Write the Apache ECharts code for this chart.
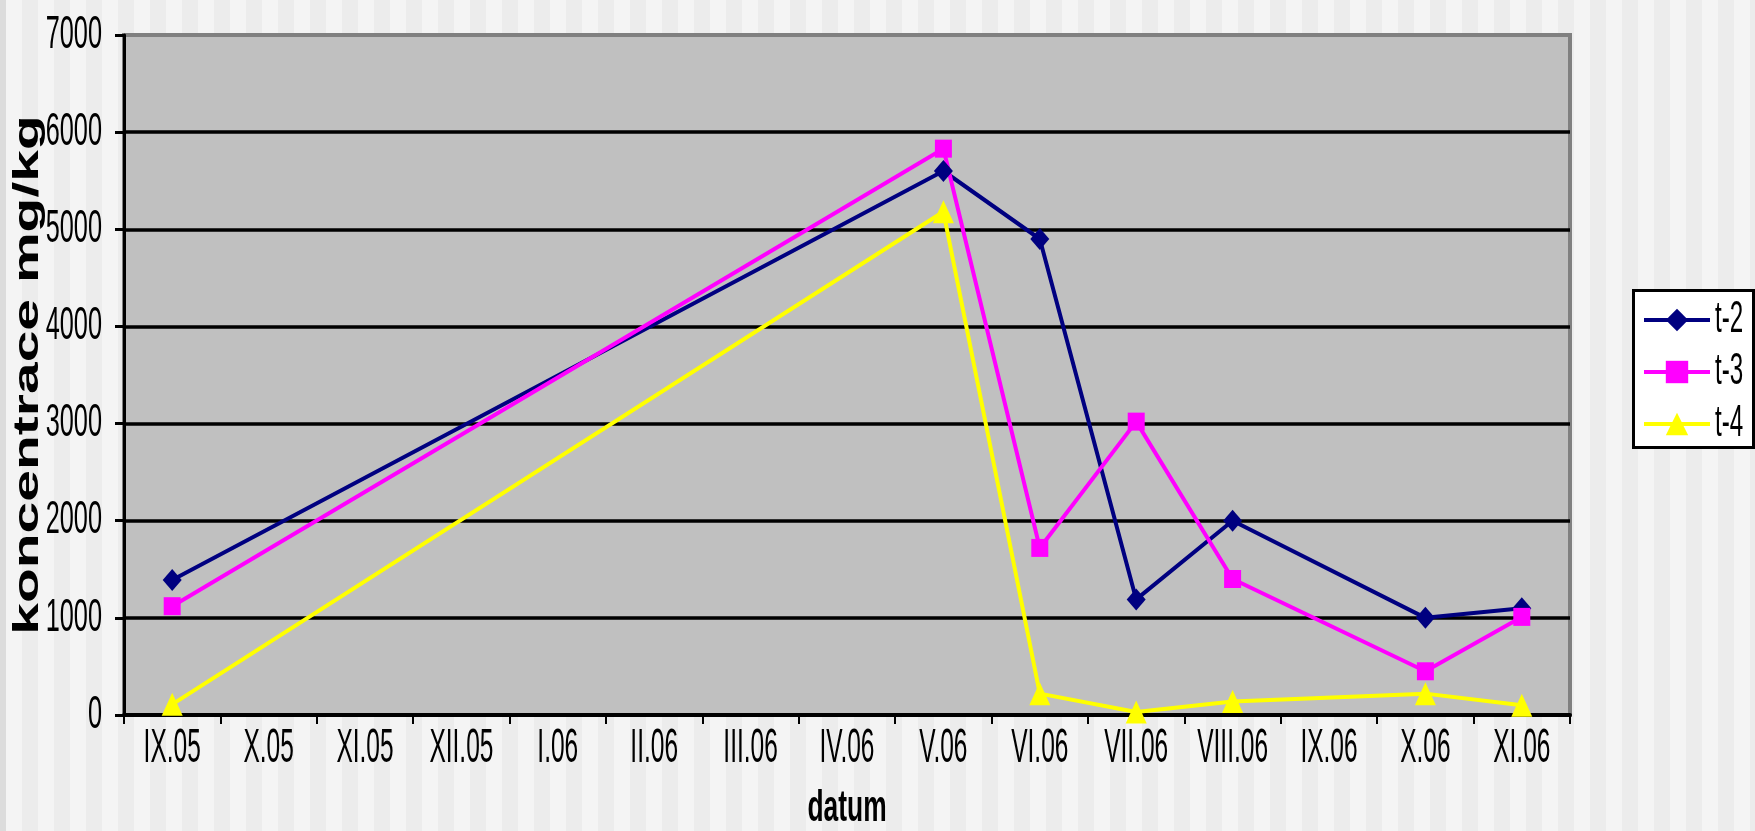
<!DOCTYPE html>
<html>
<head>
<meta charset="utf-8">
<script src="https://cdn.jsdelivr.net/npm/echarts@6/dist/echarts.min.js"></script>
<style>
html,body{margin:0;padding:0;width:1755px;height:831px;overflow:hidden;}
body{
  background:
    linear-gradient(to right,#dcdcdc 0,#dcdcdc 6px,transparent 6px),
    repeating-linear-gradient(90deg,#f4f4f4 0px,#f4f4f4 16px,#ececec 16px,#ececec 32px);
  background-position:0 0,6px 0;
}
#chart{width:1755px;height:831px;}
</style>
</head>
<body>
<div id="chart"></div>
<script>
const categories = ['IX.05','X.05','XI.05','XII.05','I.06','II.06','III.06','IV.06','V.06','VI.06','VII.06','VIII.06','IX.06','X.06','XI.06'];
const t2 = [1390, null, null, null, null, null, null, null, 5600, 4900, 1190, 2000, null, 1000, 1100];
const t3 = [1120, null, null, null, null, null, null, null, 5830, 1720, 3020, 1400, null, 450, 1010];
const t4 = [110, null, null, null, null, null, null, null, 5180, 220, 30, 140, null, 220, 100];
const yTicks = [0, 1000, 2000, 3000, 4000, 5000, 6000, 7000];
const seriesNames = ['t-2', 't-3', 't-4'];

const FONT = "'Liberation Sans', Arial, sans-serif";
const chart = echarts.init(document.getElementById('chart'), null, {renderer: 'canvas'});

const option = {
  animation: false,
  backgroundColor: 'transparent',
  textStyle: {fontFamily: FONT},
  grid: {
    left: 124, right: 185, top: 35, bottom: 116,
    outerBoundsMode: 'none', containLabel: false,
    show: true, backgroundColor: '#c0c0c0', borderColor: '#808080', borderWidth: 4
  },
  graphic: [{
    type: 'rect', left: 1632, top: 289, z: 1,
    shape: {width: 120, height: 157},
    style: {fill: '#ffffff', stroke: '#000000', lineWidth: 3}
  }],
  legend: {
    orient: 'vertical', left: 1632, top: 289, z: 5,
    padding: [9, 0, 0, 10],
    itemWidth: 66, itemHeight: 28, itemGap: 8,
    lineStyle: {width: 4},
    textStyle: {fontFamily: FONT, fontSize: 44, lineHeight: 44, color: '#000'},
    data: seriesNames
  },
  xAxis: {
    type: 'category',
    data: categories,
    boundaryGap: true,
    name: 'datum',
    nameLocation: 'middle',
    nameGap: 72,
    nameMoveOverlap: false,
    nameTextStyle: {fontFamily: FONT, fontSize: 44, fontWeight: 'bold', color: '#000'},
    axisLine: {lineStyle: {color: '#000', width: 4}},
    axisTick: {show: true, length: 9, lineStyle: {color: '#000', width: 2}},
    axisLabel: {color: '#000', fontFamily: FONT, fontSize: 49, margin: 9, interval: 0},
    splitLine: {show: false}
  },
  yAxis: {
    type: 'value',
    min: 0, max: 7000, interval: 1000,
    name: 'koncentrace mg/kg',
    nameLocation: 'middle',
    nameGap: 78,
    nameMoveOverlap: false,
    nameRotate: 90,
    nameTextStyle: {fontFamily: FONT, fontSize: 57, fontWeight: 'bold', color: '#000'},
    axisLine: {show: true, lineStyle: {color: '#000', width: 3}},
    axisTick: {show: true, length: 9, lineStyle: {color: '#000', width: 3}},
    axisLabel: {color: '#000', fontFamily: FONT, fontSize: 46, margin: 22,
      formatter: v => yTicks.indexOf(v) >= 0 ? String(v) : ''},
    splitLine: {show: true, lineStyle: {
      color: ['#000','#000','#000','#000','#000','#000','#000','#808080'], width: 3.5}}
  },
  series: [
    {name: 't-2', type: 'line', data: t2, connectNulls: true,
     symbol: 'diamond', symbolSize: [19, 22],
     lineStyle: {color: '#000080', width: 4}, itemStyle: {color: '#000080'}},
    {name: 't-3', type: 'line', data: t3, connectNulls: true,
     symbol: 'rect', symbolSize: [17, 18],
     lineStyle: {color: '#ff00ff', width: 4}, itemStyle: {color: '#ff00ff'}},
    {name: 't-4', type: 'line', data: t4, connectNulls: true,
     symbol: 'triangle', symbolSize: [21, 23],
     lineStyle: {color: '#ffff00', width: 4}, itemStyle: {color: '#ffff00'}}
  ]
};
chart.setOption(option);

// The reference's text is horizontally condensed; squash text glyphs horizontally.
function squashTexts() {
  try {
    const zr = chart.getZr();
    const visit = el => {
      if (el.type === 'text' && !el.__sq) {
        el.__sq = true;
        const st = el.style || {};
        const bold = st.fontWeight === 'bold' || /bold/.test(st.font || '');
        const size = +st.fontSize || 0;
        const f = bold ? 0.6 : (size === 49 ? 0.5 : 0.55);
        el.originX = st.x || 0;
        el.originY = st.y || 0;
        const r = el.rotation || 0;
        if (Math.abs(Math.sin(r)) > 0.7) el.scaleY = f; else el.scaleX = f;
        el.markRedraw();
      }
      if (el.isGroup && el.eachChild) el.eachChild(visit);
    };
    zr.storage.getRoots().forEach(visit);
    zr.refreshImmediately();
  } catch (e) {}
}
squashTexts();
chart.on('finished', squashTexts);
</script>
</body>
</html>
